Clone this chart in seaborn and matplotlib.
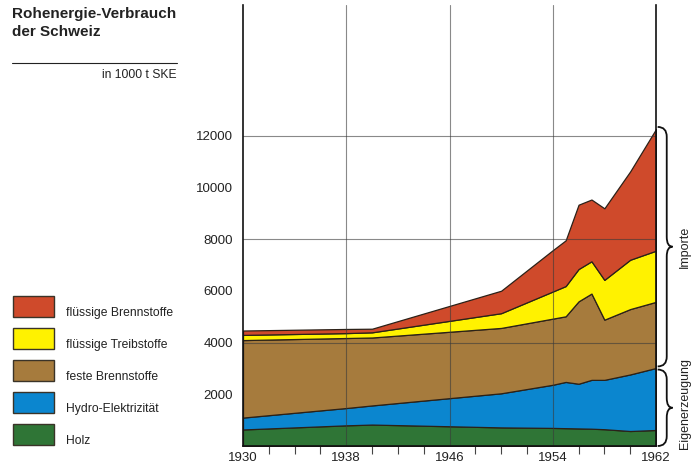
import matplotlib
matplotlib.use("Agg")
import matplotlib.pyplot as plt
import matplotlib.transforms as mtransforms
from matplotlib.path import Path
from matplotlib.patches import PathPatch, Rectangle
from matplotlib.lines import Line2D
import seaborn as sns

# --- data (1000 t SKE) ---
years = [1930, 1938, 1940, 1950, 1954, 1955, 1956, 1957, 1958, 1960, 1962]
holz = [640, 800, 830, 720, 700, 690, 680, 670, 650, 580, 620]
hydro = [460, 670, 740, 1320, 1670, 1790, 1730, 1890, 1910, 2190, 2400]
feste = [3000, 2710, 2630, 2530, 2560, 2540, 3190, 3340, 2330, 2530, 2560]
treib = [200, 190, 200, 570, 1050, 1170, 1250, 1250, 1540, 1910, 1980]
brenn = [170, 160, 140, 870, 1600, 1770, 2490, 2390, 2770, 3420, 4710]

labels = ["Holz", "Hydro-Elektrizität", "feste Brennstoffe",
          "flüssige Treibstoffe", "flüssige Brennstoffe"]
colors = ["#2f7536", "#0b86cf", "#a67b3d", "#fff200", "#cf4a2b"]

x_labels = [1930, 1938, 1946, 1954, 1962]
x_minor = [1932, 1934, 1936, 1940, 1942, 1944, 1948, 1950, 1952, 1956, 1958, 1960]
x_grid = [1938, 1946, 1954]
y_labels = [2000, 4000, 6000, 8000, 10000, 12000]
y_short = [2000, 6000, 10000]
y_grid = [4000, 8000, 12000]

sns.set_theme(style="white")
plt.rcParams['font.family'] = ['Liberation Sans', 'DejaVu Sans']

W, H = 692, 466
fig = plt.figure(figsize=(W / 100, H / 100), dpi=100)
ax = fig.add_axes([243 / W, 20 / H, 413 / W, 441 / H])

series = [holz, hydro, feste, treib, brenn]
ax.stackplot(years, *series, colors=colors, edgecolor="#2b2118", linewidth=0.9, zorder=2)

ax.set_xlim(1930, 1962)
ax.set_ylim(0, 17070)

# gridlines drawn over the areas
for g in y_grid:
    ax.axhline(g, color="#3a3a3a", lw=0.8, alpha=0.6, zorder=3)
for g in x_grid:
    ax.axvline(g, color="#3a3a3a", lw=0.8, alpha=0.6, zorder=3)

sns.despine(ax=ax, top=True, right=False)
for side in ["left", "right", "bottom"]:
    ax.spines[side].set_color("#111111")
    ax.spines[side].set_linewidth(1.2)
    ax.spines[side].set_zorder(4)

ax.set_yticks(y_labels)
ax.set_yticklabels([str(v) for v in y_labels])
ax.set_yticks(y_short, minor=True)
ax.tick_params(axis="y", which="major", length=0, pad=7, labelsize=9.5, labelcolor="#222222")
ax.tick_params(axis="y", which="minor", left=True, length=5, width=1, direction="out", color="#222222")

ax.set_xticks(x_labels)
ax.set_xticks(x_minor, minor=True)
ax.tick_params(axis="x", which="major", length=0, pad=4, labelsize=9.5, labelcolor="#222222")
ax.tick_params(axis="x", which="minor", bottom=True, length=6, width=0.8, direction="out", color="#444444")

sec = ax.secondary_yaxis("right")
sec.set_yticks(y_short)
sec.tick_params(direction="in", length=7, width=0.8, labelright=False, color="#444444")
sec.spines["right"].set_visible(False)


# --- braces on the right ---
def brace(y_bot, y_top, text, text_y=None, va="center"):
    tr = mtransforms.blended_transform_factory(ax.transAxes, ax.transData)
    x0, xm, xt = 1.004, 1.026, 1.040
    ym = (y_bot + y_top) / 2
    r = min(380, (y_top - y_bot) / 5)
    verts = [(x0, y_top), (xm, y_top), (xm, y_top - r), (xm, ym + r),
             (xm, ym), (xt, ym), (xm, ym), (xm, ym - r), (xm, y_bot + r),
             (xm, y_bot), (x0, y_bot)]
    codes = [Path.MOVETO, Path.CURVE3, Path.CURVE3, Path.LINETO,
             Path.CURVE3, Path.CURVE3, Path.CURVE3, Path.CURVE3, Path.LINETO,
             Path.CURVE3, Path.CURVE3]
    ax.add_patch(PathPatch(Path(verts, codes), transform=tr, fill=False,
                           lw=1.3, color="#111111", clip_on=False))
    ax.text(1.07, ym if text_y is None else text_y, text, transform=tr, rotation=90,
            ha="center", va=va, fontsize=9, color="#222222", clip_on=False)


total_1962 = sum(s[-1] for s in series)
eigen_1962 = holz[-1] + hydro[-1]
brace(eigen_1962 + 60, total_1962 + 80, "Importe")
brace(0, eigen_1962 - 60, "Eigenerzeugung", text_y=-130, va="bottom")

# --- title block ---
fig.text(12 / W, 1 - 7 / H, "Rohenergie-Verbrauch\nder Schweiz", fontsize=11,
         fontweight="bold", va="top", ha="left", linespacing=1.35, color="#222222")
fig.add_artist(Line2D([12 / W, 177 / W], [1 - 63 / H, 1 - 63 / H], color="#222222", lw=0.8))
fig.text(177 / W, 1 - 75 / H, "in 1000 t SKE", fontsize=8.7, ha="right", va="center",
         color="#222222")

# --- legend boxes ---
for i, (lab, col) in enumerate(zip(labels[::-1], colors[::-1])):
    top = 296 + 32 * i
    fig.add_artist(Rectangle((13 / W, 1 - (top + 21) / H), 41 / W, 21 / H,
                             transform=fig.transFigure, facecolor=col,
                             edgecolor="#3a3328", lw=1))
    fig.text(66 / W, 1 - (top + 17) / H, lab, fontsize=8.7, ha="left", va="center",
             color="#222222")

fig.savefig("out.png", dpi=100)
